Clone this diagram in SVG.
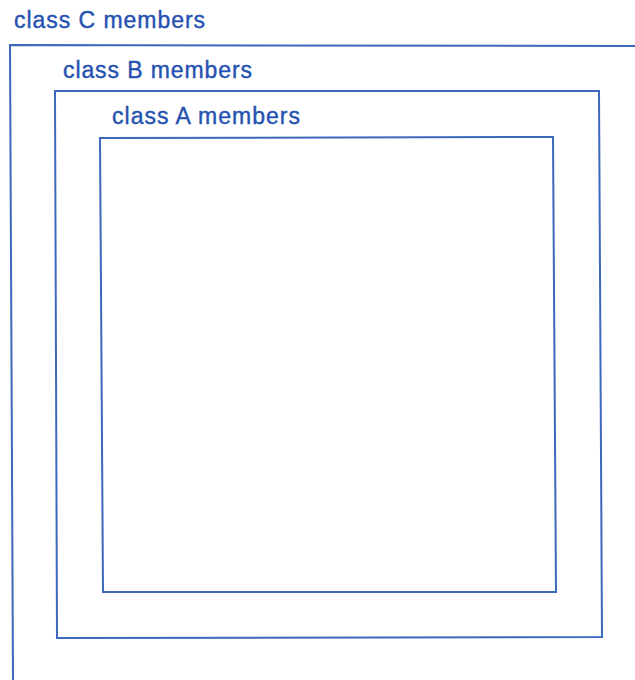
<svg xmlns="http://www.w3.org/2000/svg" width="635" height="680" viewBox="0 0 635 680">
<style>
.box{fill:none;stroke:#3d68bd;stroke-width:2;stroke-linejoin:miter}
.lbl{font-family:"Liberation Sans",Arial,sans-serif;font-size:23px;fill:#2552b0;stroke:#2552b0;stroke-width:0.4}
</style>
<rect width="635" height="680" fill="#ffffff"/>
<g id="classC">
<path class="box" d="M636,46 L10,45 L13,681"/>
<text class="lbl" x="14" y="28" textLength="191" lengthAdjust="spacing">class C members</text>
</g>
<g id="classB">
<path class="box" d="M55,91 L599,91 L602,637 L57,638 Z"/>
<text class="lbl" x="63" y="78" textLength="189" lengthAdjust="spacing">class B members</text>
</g>
<g id="classA">
<path class="box" d="M100,138 L553,137 L556,592 L103,592 Z"/>
<text class="lbl" x="112" y="124" textLength="188" lengthAdjust="spacing">class A members</text>
</g>
<g id="connectors"/>
</svg>
